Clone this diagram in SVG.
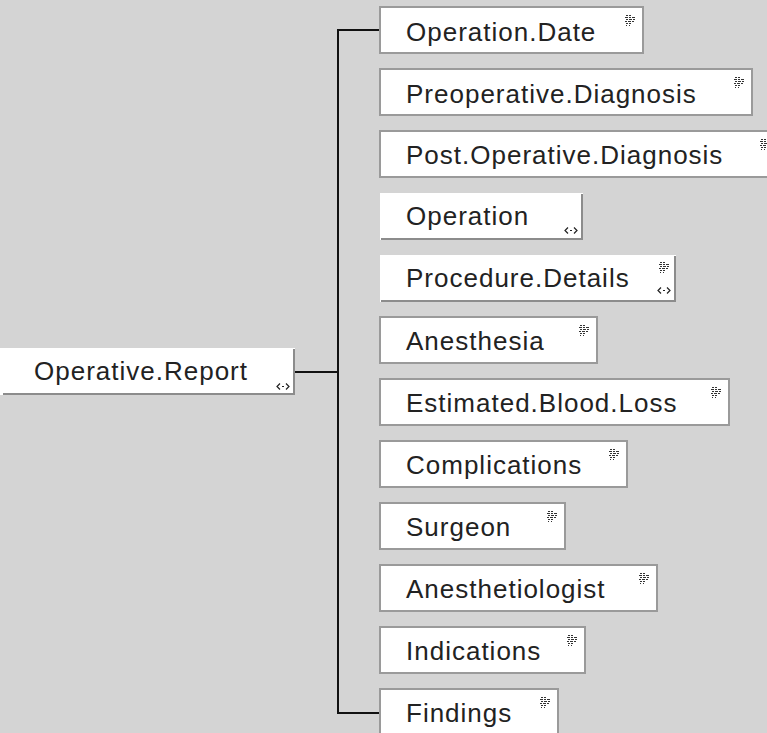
<svg xmlns="http://www.w3.org/2000/svg" xmlns:xlink="http://www.w3.org/1999/xlink" width="767" height="733" viewBox="0 0 767 733">
  <style>
    .box { fill: #ffffff; stroke: #9a9a9a; stroke-width: 2; }
    .raised { fill: #ffffff; }
    .shade { fill: none; stroke: #8c8c8c; stroke-width: 2; }
    .lbl { font-family: "Liberation Sans", Arial, sans-serif; font-size: 26px; letter-spacing: 1px; fill: #222222; }
    .conn { fill: none; stroke: #111111; stroke-width: 2; }
  </style>
  <defs>
    <g id="grid-icon" fill="#333333">
      <rect x="1" y="0" width="2" height="1"/><rect x="4" y="0" width="2" height="1"/>
      <rect x="0" y="2" width="3" height="1"/><rect x="4" y="2" width="2" height="1"/><rect x="7" y="2" width="3" height="1"/>
      <rect x="1" y="4" width="2" height="1"/><rect x="4" y="4" width="3" height="1"/><rect x="8" y="4" width="2" height="1"/>
      <rect x="0" y="6" width="2" height="1"/><rect x="3" y="6" width="3" height="1"/><rect x="7" y="6" width="2" height="1"/>
      <rect x="1" y="8" width="2" height="1"/><rect x="4" y="8" width="2" height="1"/>
      <rect x="1" y="10" width="1" height="1"/><rect x="4" y="10" width="1" height="1"/>
    </g>
    <g id="diamond-icon" fill="none" stroke="#222222" stroke-width="1.2">
      <polyline points="4,0.5 1,3.5 4,6.5"/>
      <polyline points="10,0.5 13,3.5 10,6.5"/>
      <rect x="6" y="3" width="2" height="1" fill="#222222" stroke="none"/>
    </g>
  </defs>

  <rect x="0" y="0" width="767" height="733" fill="#d4d4d4"/>

  <g id="connectors">
    <line class="conn" x1="295" y1="372" x2="338" y2="372"/>
    <line class="conn" x1="338" y1="30" x2="338" y2="713"/>
    <line class="conn" x1="337" y1="30" x2="380" y2="30"/>
    <line class="conn" x1="337" y1="713" x2="380" y2="713"/>
  </g>

  <g id="node-operative-report">
    <rect class="raised" x="0" y="348" width="295" height="47"/>
    <polyline class="shade" points="3,394 294,394 294,349"/>
    <text class="lbl" x="34" y="380">Operative.Report</text>
    <use xlink:href="#diamond-icon" x="276" y="383"/>
  </g>

  <g id="node-operation-date">
    <rect class="box" x="380" y="7" width="263" height="46"/>
    <text class="lbl" x="406" y="41">Operation.Date</text>
    <use xlink:href="#grid-icon" x="625" y="15"/>
  </g>

  <g id="node-preoperative-diagnosis">
    <rect class="box" x="380" y="69" width="372" height="46"/>
    <text class="lbl" x="406" y="103">Preoperative.Diagnosis</text>
    <use xlink:href="#grid-icon" x="734" y="77"/>
  </g>

  <g id="node-post-operative-diagnosis">
    <rect class="box" x="380" y="131" width="400" height="46"/>
    <text class="lbl" x="406" y="164">Post.Operative.Diagnosis</text>
    <use xlink:href="#grid-icon" x="760" y="139"/>
  </g>

  <g id="node-operation">
    <rect class="raised" x="380" y="193" width="203" height="47"/>
    <polyline class="shade" points="381,239 582,239 582,194"/>
    <text class="lbl" x="406" y="225">Operation</text>
    <use xlink:href="#diamond-icon" x="564" y="227"/>
  </g>

  <g id="node-procedure-details">
    <rect class="raised" x="380" y="255" width="296" height="47"/>
    <polyline class="shade" points="381,301 675,301 675,256"/>
    <text class="lbl" x="406" y="287">Procedure.Details</text>
    <use xlink:href="#grid-icon" x="659" y="262"/>
    <use xlink:href="#diamond-icon" x="657" y="287"/>
  </g>

  <g id="node-anesthesia">
    <rect class="box" x="380" y="317" width="217" height="46"/>
    <text class="lbl" x="406" y="350">Anesthesia</text>
    <use xlink:href="#grid-icon" x="579" y="325"/>
  </g>

  <g id="node-estimated-blood-loss">
    <rect class="box" x="380" y="379" width="349" height="46"/>
    <text class="lbl" x="406" y="412">Estimated.Blood.Loss</text>
    <use xlink:href="#grid-icon" x="711" y="387"/>
  </g>

  <g id="node-complications">
    <rect class="box" x="380" y="441" width="247" height="46"/>
    <text class="lbl" x="406" y="474">Complications</text>
    <use xlink:href="#grid-icon" x="609" y="449"/>
  </g>

  <g id="node-surgeon">
    <rect class="box" x="380" y="503" width="185" height="46"/>
    <text class="lbl" x="406" y="536">Surgeon</text>
    <use xlink:href="#grid-icon" x="547" y="511"/>
  </g>

  <g id="node-anesthetiologist">
    <rect class="box" x="380" y="565" width="277" height="46"/>
    <text class="lbl" x="406" y="598">Anesthetiologist</text>
    <use xlink:href="#grid-icon" x="639" y="573"/>
  </g>

  <g id="node-indications">
    <rect class="box" x="380" y="627" width="205" height="46"/>
    <text class="lbl" x="406" y="660">Indications</text>
    <use xlink:href="#grid-icon" x="567" y="635"/>
  </g>

  <g id="node-findings">
    <rect class="box" x="380" y="689" width="178" height="60"/>
    <text class="lbl" x="406" y="722">Findings</text>
    <use xlink:href="#grid-icon" x="540" y="697"/>
  </g>
</svg>
